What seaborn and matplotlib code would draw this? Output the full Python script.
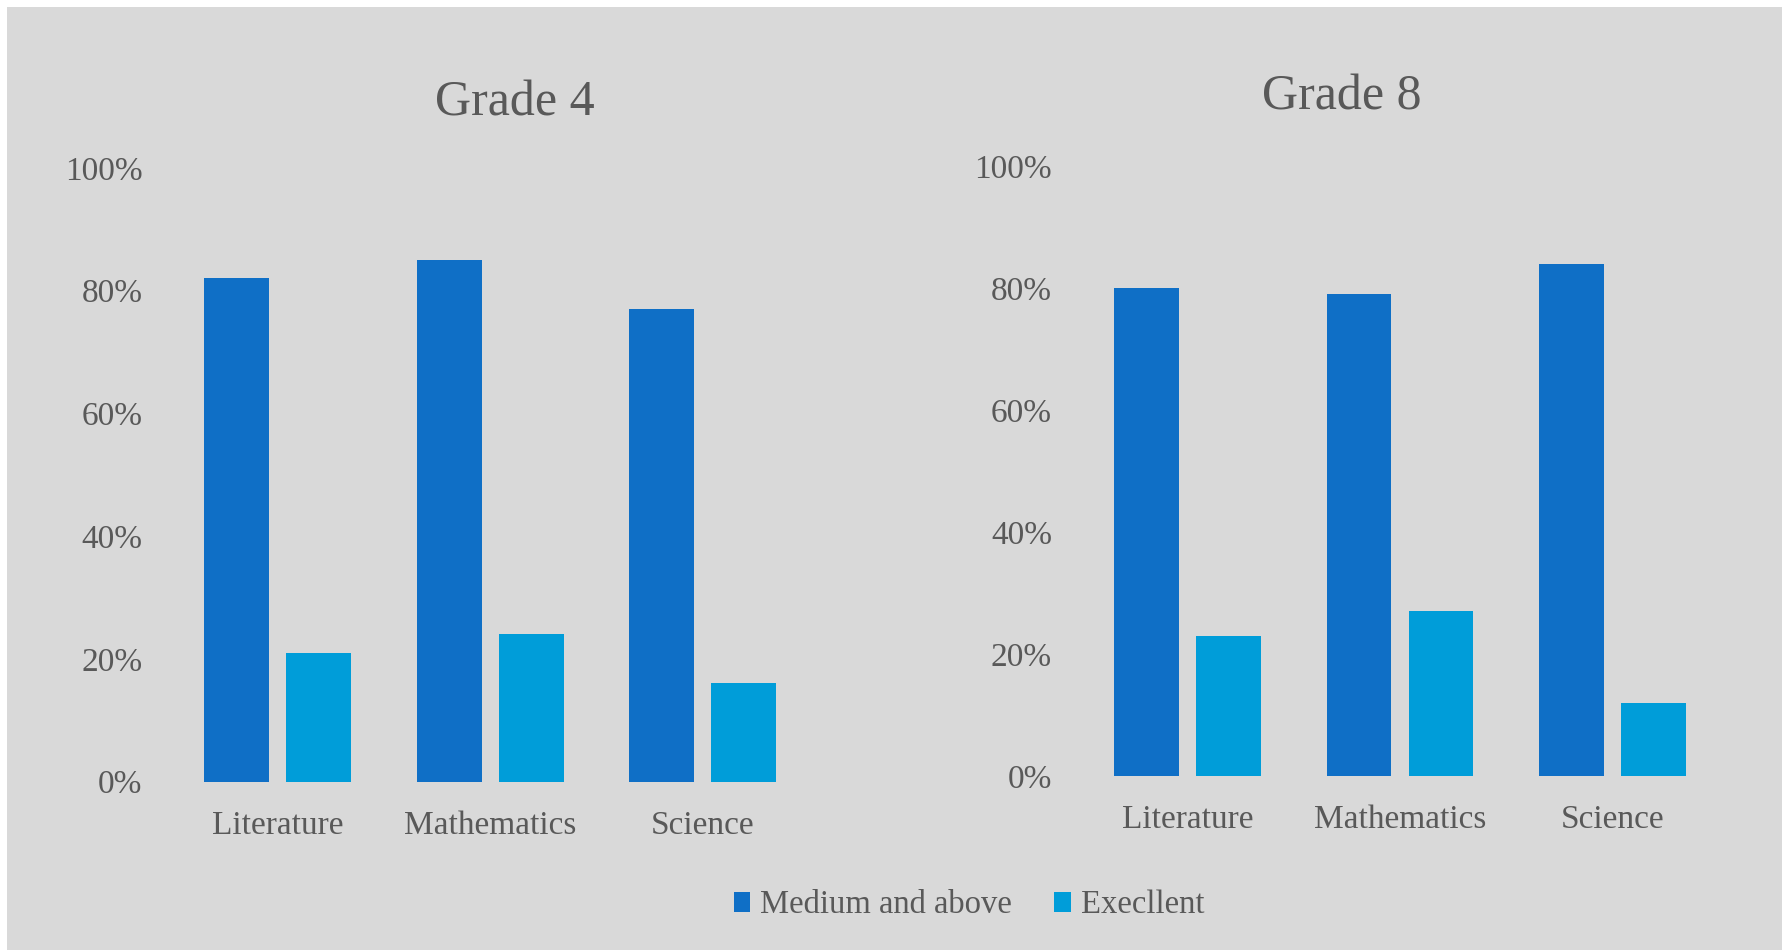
import matplotlib
matplotlib.use("Agg")
import matplotlib.pyplot as plt
import seaborn as sns
import pandas as pd
from matplotlib.patches import Rectangle
from matplotlib.ticker import PercentFormatter

subjects = ["Literature", "Mathematics", "Science"]
series_names = ["Medium and above", "Execllent"]
grade4_medium = [82, 85, 77]
grade4_excellent = [21, 24, 16]
grade8_medium = [80, 79, 84]
grade8_excellent = [23, 27, 12]
yticks = [0, 20, 40, 60, 80, 100]

colors = ["#0F6FC6", "#009DD9"]
txt = "#595959"
bg = "#D9D9D9"

sns.set_theme(style="white")
plt.rcParams["font.family"] = ["Liberation Serif", "DejaVu Serif"]

def make_df(med, exc):
    return pd.DataFrame({
        "subject": subjects * 2,
        "series": [series_names[0]] * 3 + [series_names[1]] * 3,
        "value": list(med) + list(exc),
    })

fig = plt.figure(figsize=(17.83, 9.5), dpi=100)
fig.patch.set_facecolor("white")
fig.patches.append(Rectangle((7 / 1783, 0), 1 - 7 / 1783, 1 - 7 / 950,
                             transform=fig.transFigure, facecolor=bg,
                             edgecolor="none", zorder=-10))

ax1 = fig.add_axes([0.0962, 0.1772, 0.3576, 0.646])
ax2 = fig.add_axes([0.6064, 0.1832, 0.3575, 0.6421])

for ax, med, exc in [(ax1, grade4_medium, grade4_excellent),
                     (ax2, grade8_medium, grade8_excellent)]:
    df = make_df(med, exc)
    sns.barplot(data=df, x="subject", y="value", hue="series",
                palette=colors, width=0.772, gap=0.21, ax=ax,
                legend=False, saturation=1, linewidth=0, edgecolor="none")
    ax.set_facecolor("none")
    ax.set_ylim(0, 100)
    ax.set_xlim(-0.5, 2.5)
    ax.set_yticks(yticks)
    ax.yaxis.set_major_formatter(PercentFormatter(decimals=0))
    for s in ax.spines.values():
        s.set_visible(False)
    ax.grid(False)
    ax.set_xlabel("")
    ax.set_ylabel("")
    ax.tick_params(axis="y", length=0, pad=21, labelsize=24, labelcolor=txt)
    ax.tick_params(axis="x", length=0, pad=20.5, labelsize=24, labelcolor=txt)

fig.text(515 / 1783, 1 - 116 / 950, "Grade 4", ha="center", va="baseline",
         fontsize=36, color=txt)
fig.text(1342 / 1783, 1 - 109 / 950, "Grade 8", ha="center", va="baseline",
         fontsize=36, color=txt)

handles = [Rectangle((0, 0), 1, 1, facecolor=c, edgecolor="none") for c in colors]
fig.legend(handles, series_names, loc="center",
           bbox_to_anchor=(969 / 1783, 1 - 905 / 950), ncol=2, frameon=False,
           fontsize=23.5, labelcolor=txt, handlelength=0.5, handleheight=0.55,
           handletextpad=0.3, columnspacing=1.3)

fig.savefig("out.png", dpi=100, facecolor=fig.get_facecolor())
